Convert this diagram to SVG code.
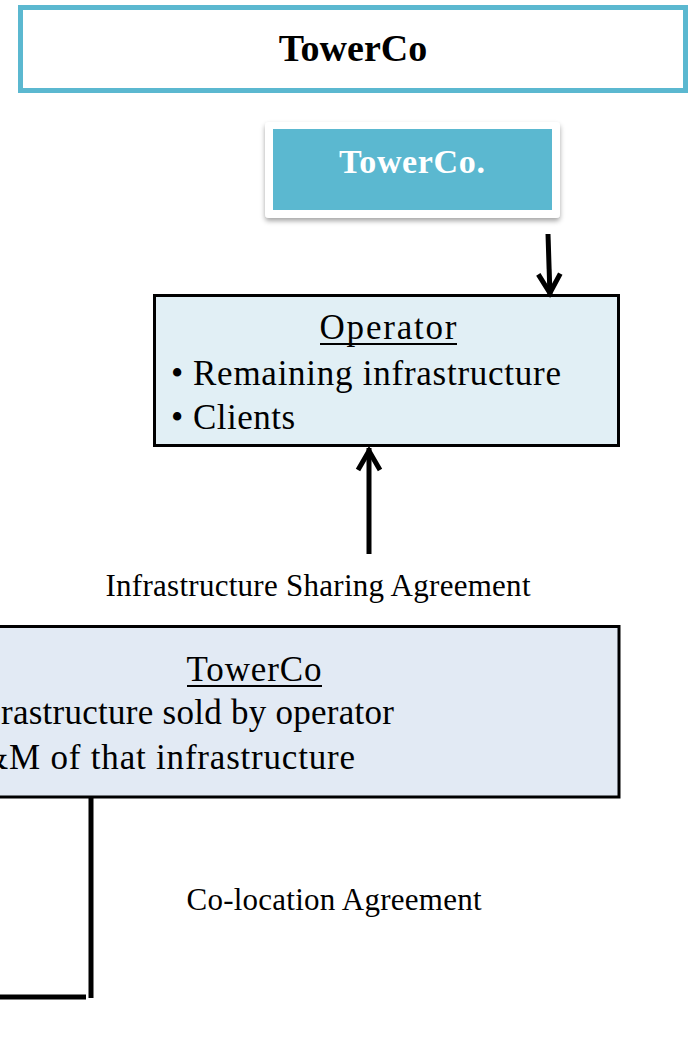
<svg xmlns="http://www.w3.org/2000/svg" width="689" height="1038" viewBox="0 0 689 1038">
  <style>
    .serif { font-family: "Liberation Serif", "DejaVu Serif", serif; fill: #000; }
    .box { stroke: #000; stroke-width: 3; }
    .line { stroke: #000; stroke-width: 5; fill: none; }
    .rule { stroke: #000; stroke-width: 1.8; }
    .label { font-size: 31px; }
    .body { font-size: 35px; }
  </style>
  <defs>
    <filter id="cardShadow" x="-10%" y="-10%" width="120%" height="130%">
      <feDropShadow dx="0" dy="3" stdDeviation="2.5" flood-color="#000" flood-opacity="0.35"/>
    </filter>
    <!-- open chevron head, sized in user units -->
    <marker id="arrowHead" viewBox="-25 -15 30 30" refX="3" refY="0" markerWidth="30" markerHeight="30" markerUnits="userSpaceOnUse" orient="auto" overflow="visible">
      <path d="M-19,-11 L0,0 L-19,11" fill="none" stroke="#000" stroke-width="5" stroke-linejoin="miter" stroke-linecap="butt"/>
    </marker>
    <clipPath id="lowerClip">
      <rect x="0" y="626" width="620" height="172"/>
    </clipPath>
  </defs>

  <!-- title banner -->
  <g id="title">
    <rect x="20.5" y="7.5" width="665" height="83" fill="#fff" stroke="#5BB8D0" stroke-width="5"/>
    <text class="serif" x="353" y="61" font-size="38" font-weight="bold" text-anchor="middle">TowerCo</text>
  </g>

  <!-- TowerCo. card -->
  <g id="towerco-card">
    <rect x="265" y="122" width="295" height="96" rx="4" fill="#fff" filter="url(#cardShadow)"/>
    <rect x="273" y="129" width="279" height="81" fill="#5BB8D0"/>
    <text class="serif" x="412" y="173" font-size="34" font-weight="bold" text-anchor="middle" style="fill:#fff" textLength="146">TowerCo.</text>
  </g>

  <!-- Operator -->
  <g id="operator">
    <rect class="box" x="154.5" y="295.5" width="464" height="150" fill="#E1EFF5"/>
    <text class="serif body" x="388" y="339" text-anchor="middle" textLength="137">Operator</text>
    <line class="rule" x1="320" y1="344" x2="457" y2="344"/>
    <text class="serif body" x="171" y="385">•</text>
    <text class="serif body" x="193" y="385" textLength="368">Remaining infrastructure</text>
    <text class="serif body" x="171" y="429">•</text>
    <text class="serif body" x="193" y="429" textLength="102">Clients</text>
  </g>

  <!-- TowerCo (lower) -->
  <g id="towerco">
    <rect class="box" x="-10" y="626.5" width="629" height="170.5" fill="#E2EAF4"/>
    <text class="serif body" x="254" y="681" text-anchor="middle" textLength="135">TowerCo</text>
    <line class="rule" x1="187" y1="686" x2="322" y2="686"/>
    <g clip-path="url(#lowerClip)">
      <text class="serif body" x="1" y="724" textLength="393">rastructure sold by operator</text>
      <text class="serif body" x="-19" y="769" textLength="374">&amp;M of that infrastructure</text>
    </g>
  </g>

  <!-- connectors -->
  <g id="connectors">
    <line class="line" x1="548" y1="234" x2="550" y2="296" marker-end="url(#arrowHead)"/>
    <line class="line" x1="369" y1="554" x2="369" y2="448" marker-end="url(#arrowHead)"/>
    <line class="line" x1="91" y1="797" x2="91" y2="998"/>
    <line class="line" x1="0" y1="997" x2="86" y2="997"/>
  </g>

  <!-- agreement labels -->
  <g id="labels">
    <text class="serif label" x="318" y="596" text-anchor="middle" textLength="425">Infrastructure Sharing Agreement</text>
    <text class="serif label" x="334" y="910" text-anchor="middle" textLength="295">Co-location Agreement</text>
  </g>
</svg>
